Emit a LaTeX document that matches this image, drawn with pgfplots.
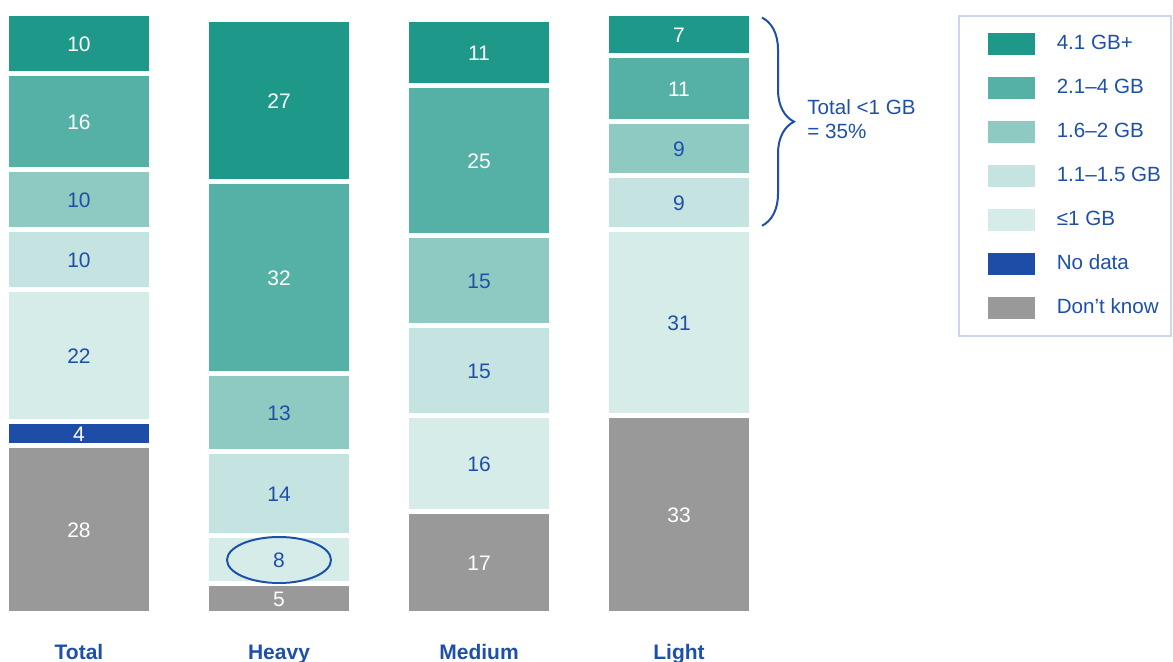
\documentclass[border=0pt]{standalone}
\usepackage{pgfplots}
\pgfplotsset{compat=1.18}
\usepackage{fontspec}
\setmainfont{Liberation Sans}
\usetikzlibrary{decorations.pathreplacing,shapes.geometric}
\definecolor{cA}{RGB}{30,152,136}
\definecolor{cB}{RGB}{85,176,165}
\definecolor{cC}{RGB}{142,202,193}
\definecolor{cD}{RGB}{197,227,224}
\definecolor{cE}{RGB}{214,236,233}
\definecolor{cND}{RGB}{29,77,166}
\definecolor{cDK}{RGB}{153,153,153}
\definecolor{txtblue}{RGB}{30,80,170}
\definecolor{legborder}{RGB}{205,214,235}
\begin{document}
\begin{tikzpicture}
\useasboundingbox (0,-24pt) rectangle (586.5pt,307pt);
\begin{axis}[
  at={(0,0)}, anchor=south west,
  width=586.5pt, height=300pt, scale only axis,
  xmin=-0.395, xmax=5.47, ymin=0, ymax=100,
  ybar stacked, bar width=72.5pt,
  axis line style={draw=none}, major tick length=0pt,
  ytick=\empty, xtick={0,1,2,3}, xticklabels={Total,Heavy,Medium,Light},
  xticklabel style={anchor=base, yshift=-23pt, font=\bfseries\fontsize{10.5}{12}\selectfont, text=txtblue},
  clip=false,
  /pgf/number format/assume math mode=true,
  nodes near coords,
  every node near coord/.append style={anchor=center, font=\fontsize{10.5}{12}\selectfont, text=txtblue},
  legend image code/.code={\path (0pt,0pt); \fill[#1, draw=none] (8pt,-5.5pt) rectangle (31.5pt,5.5pt);},
  reverse legend,
  legend style={at={(axis description cs:1,0.9983)}, anchor=north east, xshift=-0.5pt,
    draw=legborder, line width=1pt, fill=white,
    inner xsep=5pt, inner ysep=8.5pt, row sep=11pt, column sep=11pt,
    font=\fontsize{10.3}{12}\selectfont, text=txtblue,
    nodes={inner xsep=0pt, inner ysep=0pt, text height=7.4pt, text depth=2pt}},
  legend cell align=left,
]
\addplot[fill=cDK, draw=white, line width=2.5pt, every node near coord/.append style={text=white}]
  coordinates {(0,28) (1,5) (2,17) (3,33)};
\addplot[fill=cND, draw=white, line width=2.5pt, every node near coord/.append style={text=white},
  nodes near coords={\pgfmathfloatifflags{\pgfplotspointmeta}{0}{}{\pgfmathprintnumber{\pgfplotspointmeta}}}]
  coordinates {(0,4) (1,0) (2,0) (3,0)};
\addplot[fill=cE, draw=white, line width=2.5pt]
  coordinates {(0,22) (1,8) (2,16) (3,31)};
\addplot[fill=cD, draw=white, line width=2.5pt]
  coordinates {(0,10) (1,14) (2,15) (3,9)};
\addplot[fill=cC, draw=white, line width=2.5pt]
  coordinates {(0,10) (1,13) (2,15) (3,9)};
\addplot[fill=cB, draw=white, line width=2.5pt, every node near coord/.append style={text=white}]
  coordinates {(0,16) (1,32) (2,25) (3,11)};
\addplot[fill=cA, draw=white, line width=2.5pt, every node near coord/.append style={text=white}]
  coordinates {(0,10) (1,27) (2,11) (3,7)};
\legend{Don’t know, No data, ≤1 GB, 1.1–1.5 GB, 1.6–2 GB, 2.1–4 GB, 4.1 GB+}
\coordinate (ell) at (axis cs:1,9);
\draw[decorate, decoration={brace, amplitude=16pt}, txtblue, line width=1pt]
  (axis cs:3.415,99.4) -- (axis cs:3.415,64.7);
\node[anchor=west, align=left, font=\fontsize{10.3}{12}\selectfont, text=txtblue, inner xsep=0pt]
  at (axis cs:3.64,82.5) {Total <1 GB\\= 35\%};
\end{axis}
\node[draw=txtblue, line width=1pt, ellipse, minimum width=52pt, minimum height=23pt, inner sep=0pt]
  at (ell) {};
\end{tikzpicture}
\end{document}
